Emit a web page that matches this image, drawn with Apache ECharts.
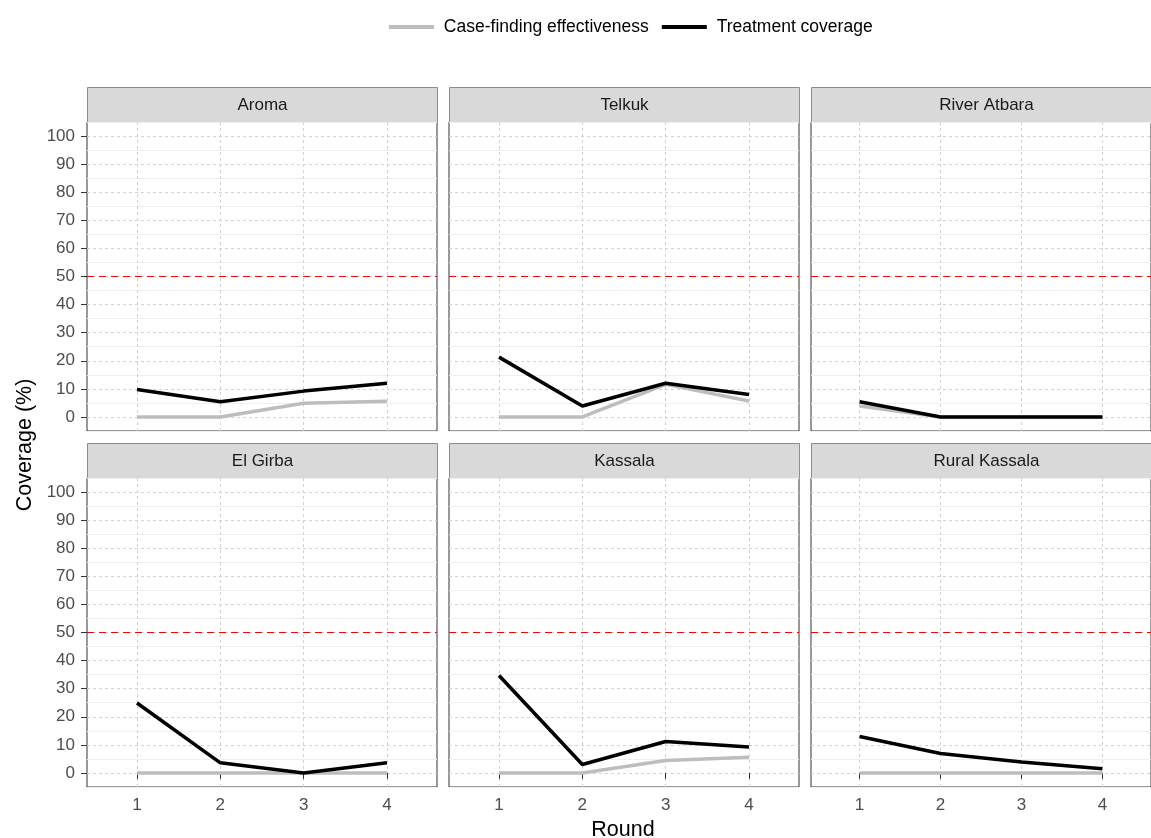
<!DOCTYPE html>
<html><head><meta charset="utf-8">
<script src="https://cdn.jsdelivr.net/npm/echarts@6/dist/echarts.min.js"></script>
<style>html,body{margin:0;padding:0;background:#fff}#c{width:1151px;height:838px}</style>
</head><body><div id="c"></div>
<script>
const districts = ['Aroma','Telkuk','River Atbara','El Girba','Kassala','Rural Kassala'];
const rounds = [1,2,3,4];
const yTicks = [0,10,20,30,40,50,60,70,80,90,100];
const target = 50;
const caseFinding = [
  [0, 0, 4.9, 5.6],
  [0, 0, 11.6, 5.7],
  [3.9, 0, 0, 0],
  [0, 0, 0, 0],
  [0, 0, 4.4, 5.6],
  [0, 0, 0, 0]
];
const treatment = [
  [9.8, 5.4, 9.2, 12.0],
  [21.3, 3.9, 12.0, 8.0],
  [5.4, 0, 0, 0],
  [24.9, 3.6, 0, 3.6],
  [34.7, 3.0, 11.2, 9.2],
  [13.0, 6.9, 3.9, 1.5]
];
const seriesNames = ['Case-finding effectiveness','Treatment coverage'];

const FONT = '"Liberation Sans", Arial, sans-serif';
const COLS = [87, 449, 811], ROWS = [122, 478], W = 350, H = 309, STRIP = 35;

const grid = [], xAxis = [], yAxis = [], series = [], graphic = [];
districts.forEach((d, i) => {
  const col = i % 3, row = Math.floor(i / 3);
  const left = COLS[col], top = ROWS[row];
  grid.push({left: left, top: top, width: W, height: H, show: true, borderColor: '#333', borderWidth: 1, backgroundColor: '#fff', containLabel: false});
  const isBottom = row === 1, isLeft = col === 0;
  xAxis.push({
    type: 'value', gridIndex: i, min: 0.4, max: 4.6,
    axisLine: {show: false},
    axisTick: {show: isBottom, customValues: rounds, length: 6, lineStyle: {color: '#333'}},
    axisLabel: {show: isBottom, customValues: rounds, margin: 10, fontSize: 17, color: '#4d4d4d', fontFamily: FONT},
    splitLine: {show: true, lineStyle: {color: '#d2d2d2', type: [3, 3], width: 1}}
  });
  yAxis.push({
    type: 'value', gridIndex: i, min: -5, max: 105,
    axisLine: {show: false},
    axisTick: {show: isLeft, customValues: yTicks, length: 6, lineStyle: {color: '#333'}},
    axisLabel: {show: isLeft, customValues: yTicks, margin: 12, fontSize: 17, color: '#4d4d4d', fontFamily: FONT},
    splitLine: {show: true, lineStyle: {color: '#d2d2d2', type: [3, 3], width: 1}}
  });
  // minor grid axis (ticks at -5,5,15,...,105)
  yAxis.push({
    type: 'value', gridIndex: i, min: -5, max: 105, interval: 10, position: 'right',
    axisLine: {show: false}, axisTick: {show: false}, axisLabel: {show: false},
    splitLine: {show: true, lineStyle: {color: '#efefef', width: 1}}
  });
  const yIdx = yAxis.length - 2;
  series.push({
    name: seriesNames[0], type: 'line', xAxisIndex: i, yAxisIndex: yIdx,
    data: rounds.map((r, k) => [r, caseFinding[i][k]]),
    showSymbol: false, symbol: 'none', lineStyle: {color: '#bdbdbd', width: 3.5}, itemStyle: {color: '#bdbdbd'},
    z: 3, silent: true,
    markLine: {silent: true, symbol: 'none', label: {show: false},
      lineStyle: {color: '#ff0000', type: [7, 5], width: 1.2},
      data: [{yAxis: target}]}
  });
  series.push({
    name: seriesNames[1], type: 'line', xAxisIndex: i, yAxisIndex: yIdx,
    data: rounds.map((r, k) => [r, treatment[i][k]]),
    showSymbol: false, symbol: 'none', lineStyle: {color: '#000', width: 3.5}, itemStyle: {color: '#000'},
    z: 4, silent: true
  });
  graphic.push({
    type: 'group', left: left, top: top - STRIP,
    children: [
      {type: 'rect', shape: {x: 0, y: 0, width: W, height: STRIP}, style: {fill: '#d9d9d9', stroke: '#8c8c8c', lineWidth: 1}},
      {type: 'text', x: W / 2, y: STRIP / 2, style: {text: d, fill: '#1a1a1a', font: '17px ' + FONT, textAlign: 'center', textVerticalAlign: 'middle'}}
    ]
  });
});
graphic.push({type: 'text', x: 25, y: 445, rotation: Math.PI / 2,
  style: {text: 'Coverage (%)', fill: '#000', font: '21.5px ' + FONT, textAlign: 'center', textVerticalAlign: 'middle'}});
graphic.push({type: 'text', x: 623, y: 830,
  style: {text: 'Round', fill: '#000', font: '21.5px ' + FONT, textAlign: 'center', textVerticalAlign: 'middle'}});

const chart = echarts.init(document.getElementById('c'), null, {renderer: 'canvas'});
chart.setOption({
  animation: false,
  backgroundColor: '#fff',
  textStyle: {fontFamily: FONT},
  legend: {
    data: seriesNames, left: 384, top: 13, icon: 'rect', itemWidth: 45, itemHeight: 4, itemGap: 13,
    formatter: n => ' ' + n,
    textStyle: {fontSize: 17.5, color: '#000', fontFamily: FONT}
  },
  grid: grid, xAxis: xAxis, yAxis: yAxis, series: series, graphic: graphic
});
</script></body></html>
